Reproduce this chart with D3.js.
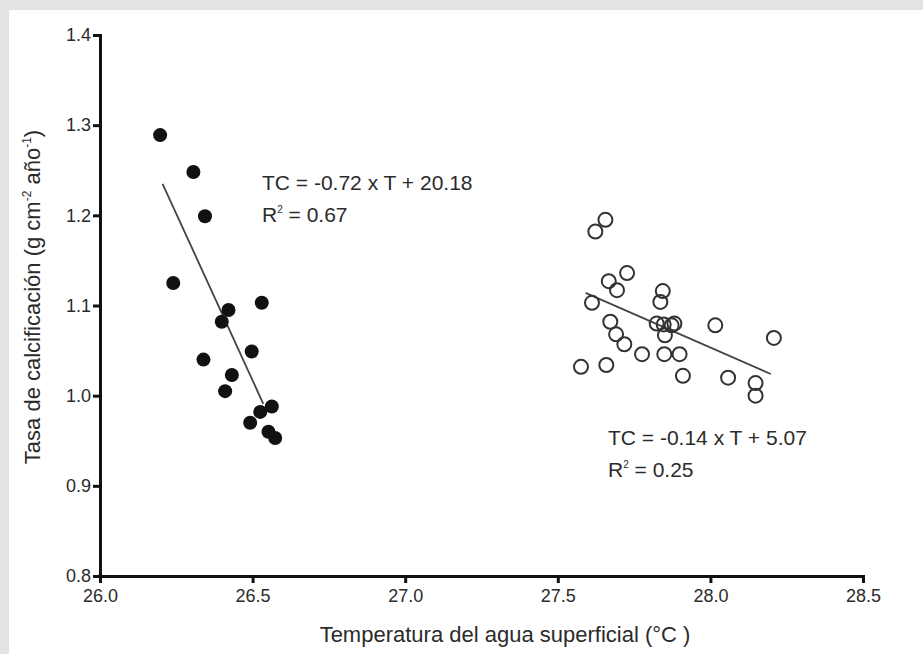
<!DOCTYPE html>
<html>
<head>
    <meta charset="utf-8">
    <script src="https://d3js.org/d3.v7.min.js"></script>
    <style>
        body { margin: 0; background: #e3e3e3; }
        svg { display: block; }
        text { font-family: "Liberation Sans", Arial, sans-serif; fill: #2b2b2b; }
    </style>
</head>
<body>
    <svg width="923" height="654"></svg>
    <script>
        // filled dots: temperature / calcification rate
        const filledT = [26.197, 26.306, 26.344, 26.240, 26.421, 26.399, 26.530, 26.339, 26.497, 26.432, 26.410, 26.563, 26.525, 26.492, 26.552, 26.574]
        const filledV = [1.289, 1.248, 1.199, 1.125, 1.095, 1.082, 1.103, 1.040, 1.049, 1.023, 1.005, 0.988, 0.982, 0.970, 0.960, 0.953]

        // open dots
        const openT = [27.656, 27.623, 27.727, 27.667, 27.694, 27.844, 27.836, 27.612, 27.672, 27.691, 27.718, 27.824, 27.847, 27.873, 27.882, 27.851,
            28.016, 28.208, 27.776, 27.849, 27.899, 27.576, 27.659, 27.910, 28.058, 28.148, 28.148]
        const openV = [1.195, 1.182, 1.136, 1.127, 1.117, 1.116, 1.104, 1.103, 1.082, 1.068, 1.057, 1.080, 1.079, 1.078, 1.080, 1.067,
            1.078, 1.064, 1.046, 1.046, 1.046, 1.032, 1.034, 1.022, 1.020, 1.014, 1.000]

        // regression lines as drawn (start, end)
        const fitFilledT = [26.205, 26.535]
        const fitFilledV = [1.235, 0.991]
        const fitOpenT = [27.591, 28.198]
        const fitOpenV = [1.114, 1.024]

        const xTicks = [26.0, 26.5, 27.0, 27.5, 28.0, 28.5]
        const yTicks = [0.8, 0.9, 1.0, 1.1, 1.2, 1.3, 1.4]

        let svg = d3.select("svg")

        // white panel over grey page
        svg.append("rect").attr("x", 9).attr("y", 10).attr("width", 914).attr("height", 644).attr("fill", "#fff")

        let x = d3.scaleLinear().domain([26, 28.5]).range([100, 863])
        let y = d3.scaleLinear().domain([0.8, 1.4]).range([576, 35])

        let xAxis = svg.append("g")
            .attr("transform", "translate(0,576)")
            .call(d3.axisBottom(x).tickValues(xTicks).tickFormat(d3.format(".1f")).tickSizeOuter(0).tickSize(7).tickPadding(6))
        let yAxis = svg.append("g")
            .attr("transform", "translate(100,0)")
            .call(d3.axisLeft(y).tickValues(yTicks).tickFormat(d3.format(".1f")).tickSizeOuter(0).tickSize(7).tickPadding(2))

        for (let g of [xAxis, yAxis]) {
            g.select(".domain").attr("stroke", "#111").attr("stroke-width", 3)
            g.selectAll(".tick line").attr("stroke", "#111").attr("stroke-width", 3)
            g.selectAll(".tick text").style("font-size", "18px").attr("fill", "#333")
        }
        // extend axes to meet at the corner
        svg.append("line").attr("x1", 98.5).attr("x2", 100).attr("y1", 576).attr("y2", 576).attr("stroke", "#111").attr("stroke-width", 3)

        // regression lines
        const lineGen = d3.line().x(d => x(d[0])).y(d => y(d[1]))
        svg.append("path").attr("d", lineGen(d3.zip(fitFilledT, fitFilledV)))
            .attr("stroke", "#444").attr("stroke-width", 1.8).attr("fill", "none")
        svg.append("path").attr("d", lineGen(d3.zip(fitOpenT, fitOpenV)))
            .attr("stroke", "#444").attr("stroke-width", 1.8).attr("fill", "none")

        svg.selectAll("circle.filled")
            .data(d3.zip(filledT, filledV))
            .enter()
            .append("circle")
            .attr("class", "filled")
            .attr("cx", d => x(d[0]))
            .attr("cy", d => y(d[1]))
            .attr("r", 7)
            .attr("fill", "#111")

        svg.selectAll("circle.open")
            .data(d3.zip(openT, openV))
            .enter()
            .append("circle")
            .attr("class", "open")
            .attr("cx", d => x(d[0]))
            .attr("cy", d => y(d[1]))
            .attr("r", 7)
            .attr("fill", "none")
            .attr("stroke", "#333")
            .attr("stroke-width", 2)

        // equations
        function eq(px, py, line1, r2) {
            svg.append("text").attr("x", px).attr("y", py).style("font-size", "21px").text(line1)
            let t = svg.append("text").attr("x", px).attr("y", py + 32).style("font-size", "21px")
            t.append("tspan").text("R")
            t.append("tspan").attr("dy", -9).style("font-size", "10px").text("2")
            t.append("tspan").attr("dy", 9).text(" = " + r2)
        }
        eq(262, 190, "TC = -0.72 x T + 20.18", "0.67")
        eq(608, 445, "TC = -0.14 x T + 5.07", "0.25")

        // axis titles
        svg.append("text").attr("x", 505).attr("y", 642).attr("text-anchor", "middle")
            .style("font-size", "22px").text("Temperatura del agua superficial (°C )")

        let yt = svg.append("text").attr("transform", "translate(40,297) rotate(-90)")
            .attr("text-anchor", "middle").style("font-size", "22px")
        yt.append("tspan").text("Tasa de calcificación (g cm")
        yt.append("tspan").attr("dy", -9).style("font-size", "12px").text("-2")
        yt.append("tspan").attr("dy", 9).text(" año")
        yt.append("tspan").attr("dy", -9).style("font-size", "12px").text("-1")
        yt.append("tspan").attr("dy", 9).text(")")
    </script>
</body>
</html>
